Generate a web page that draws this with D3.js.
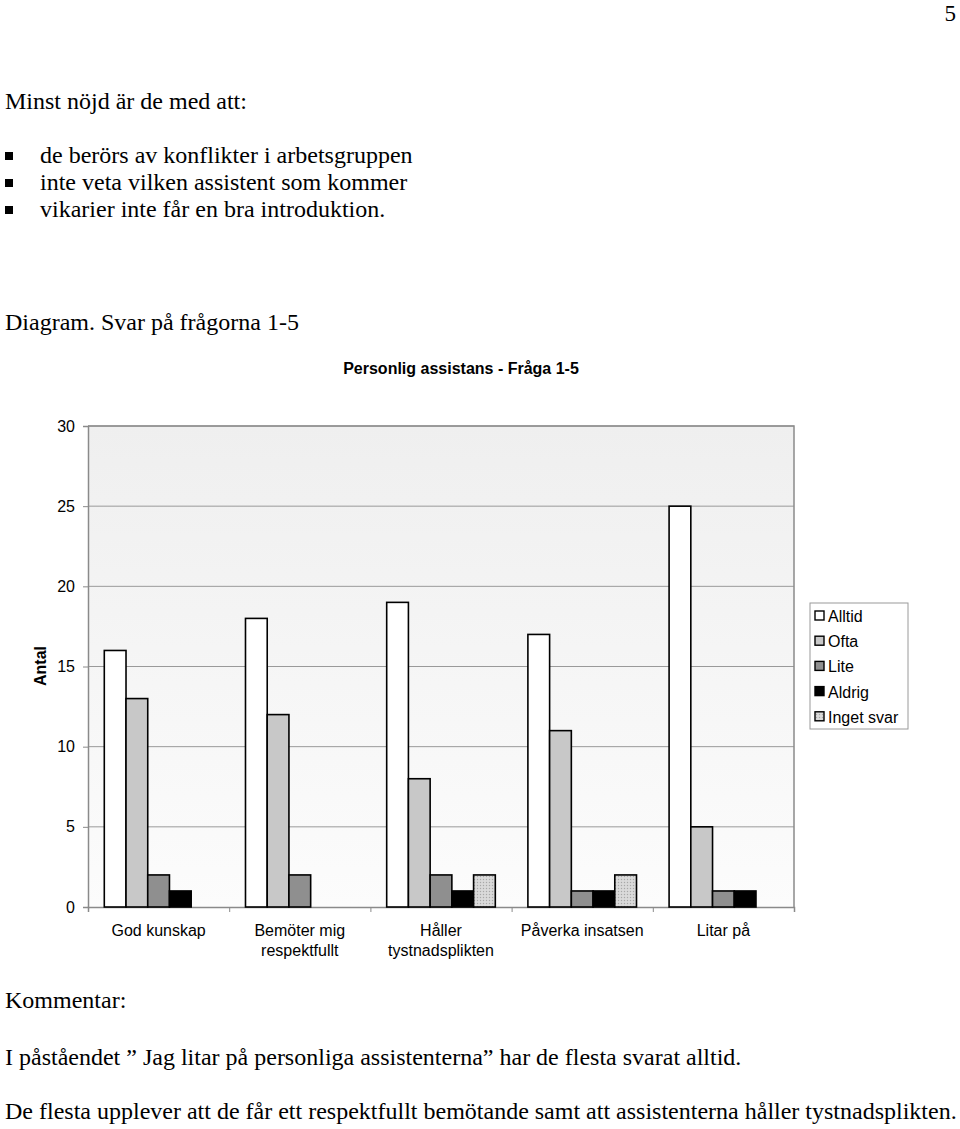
<!DOCTYPE html>
<html>
<head>
<meta charset="utf-8">
<script src="https://cdn.jsdelivr.net/npm/d3@7/dist/d3.min.js"></script>
<style>
  html, body { margin: 0; padding: 0; background: #fff; }
  svg { display: block; }
</style>
</head>
<body>
<svg id="page" width="960" height="1129"></svg>
<script>
const categories = [["God kunskap"], ["Bemöter mig", "respektfullt"], ["Håller", "tystnadsplikten"], ["Påverka insatsen"], ["Litar på"]];
const seriesNames = ["Alltid", "Ofta", "Lite", "Aldrig", "Inget svar"];
const alltid    = [16, 18, 19, 17, 25];
const ofta      = [13, 12, 8, 11, 5];
const lite      = [2, 2, 2, 1, 1];
const aldrig    = [1, 0, 1, 1, 1];
const ingetSvar = [0, 0, 2, 2, 0];
const yTicks = [0, 5, 10, 15, 20, 25, 30];
const chartTitle = "Personlig assistans - Fråga 1-5";
const yAxisTitle = "Antal";

const seriesValues = [alltid, ofta, lite, aldrig, ingetSvar];
const fills = ["#ffffff", "#c8c8c8", "#8f8f8f", "#000000", "url(#dots)"];

const svg = d3.select("#page");
const serif = "'Liberation Serif', 'Times New Roman', serif";
const sans = "'Liberation Sans', Arial, sans-serif";
const FS = 24;

// defs
const defs = svg.append("defs");
const grad = defs.append("linearGradient").attr("id", "bg").attr("x1", 0).attr("y1", 0).attr("x2", 0).attr("y2", 1);
grad.append("stop").attr("offset", "0%").attr("stop-color", "#efefef");
grad.append("stop").attr("offset", "100%").attr("stop-color", "#fcfcfc");
const pat = defs.append("pattern").attr("id", "dots").attr("width", 3).attr("height", 3).attr("patternUnits", "userSpaceOnUse");
pat.append("rect").attr("width", 3).attr("height", 3).attr("fill", "#d4d4d4");
pat.append("rect").attr("x", 0).attr("y", 0).attr("width", 1).attr("height", 1).attr("fill", "#a8a8a8");
pat.append("rect").attr("x", 1.5).attr("y", 1.5).attr("width", 1).attr("height", 1).attr("fill", "#ececec");

// Page text
svg.append("text").attr("x", 956).attr("y", 21).attr("text-anchor", "end")
  .attr("font-family", serif).attr("font-size", 23).text("5");
svg.append("text").attr("x", 5).attr("y", 109).attr("font-family", serif).attr("font-size", FS).text("Minst nöjd är de med att:");
const bullets = ["de berörs av konflikter i arbetsgruppen", "inte veta vilken assistent som kommer", "vikarier inte får en bra introduktion."];
bullets.forEach((b, i) => {
  const yy = 163 + i * 27;
  svg.append("rect").attr("x", 5).attr("y", yy - 11).attr("width", 8).attr("height", 8).attr("fill", "#000");
  svg.append("text").attr("x", 40).attr("y", yy).attr("font-family", serif).attr("font-size", FS).text(b);
});
svg.append("text").attr("x", 5).attr("y", 330).attr("font-family", serif).attr("font-size", FS).text("Diagram. Svar på frågorna 1-5");
svg.append("text").attr("x", 5).attr("y", 1008).attr("font-family", serif).attr("font-size", FS).text("Kommentar:");
svg.append("text").attr("x", 5).attr("y", 1065).attr("font-family", serif).attr("font-size", FS)
  .text("I påståendet ” Jag litar på personliga assistenterna” har de flesta svarat alltid.");
svg.append("text").attr("x", 5).attr("y", 1119).attr("font-family", serif).attr("font-size", FS)
  .text("De flesta upplever att de får ett respektfullt bemötande samt att assistenterna håller tystnadsplikten.");

// Chart
const plot = { left: 88, right: 794, top: 426, bottom: 907 };
const x0 = d3.scaleBand().domain(d3.range(categories.length)).range([plot.left, plot.right]).paddingInner(0).paddingOuter(0);
const barW = x0.bandwidth() / 6.5;
const y = d3.scaleLinear().domain([0, 30]).range([plot.bottom, plot.top]);

svg.append("rect").attr("x", plot.left).attr("y", plot.top).attr("width", plot.right - plot.left)
  .attr("height", plot.bottom - plot.top).attr("fill", "url(#bg)");

// gridlines
svg.append("g").selectAll("line").data(yTicks.filter(t => t > 0)).join("line")
  .attr("x1", plot.left).attr("x2", plot.right).attr("y1", d => y(d)).attr("y2", d => y(d))
  .attr("stroke", "#9a9a9a").attr("stroke-width", 1);

// plot border (top/right)
svg.append("path").attr("d", `M${plot.left},${plot.top}H${plot.right}V${plot.bottom}`)
  .attr("fill", "none").attr("stroke", "#8a8a8a").attr("stroke-width", 1.5);

// y axis
const yAxis = d3.axisLeft(y).tickValues(yTicks).tickSize(5).tickPadding(8).tickFormat(d3.format("d"));
const gy = svg.append("g").attr("transform", `translate(${plot.left},0)`).call(yAxis);
gy.select(".domain").attr("stroke", "#8a8a8a").attr("stroke-width", 1.5);
gy.selectAll(".tick line").attr("stroke", "#8a8a8a");
gy.selectAll("text").attr("font-family", sans).attr("font-size", 16).attr("fill", "#000");

// x axis
const xAxisScale = d3.scaleLinear().domain([0, categories.length]).range([plot.left, plot.right]);
const gx = svg.append("g").attr("transform", `translate(0,${plot.bottom})`)
  .call(d3.axisBottom(xAxisScale).ticks(5).tickSize(5).tickFormat(""));
gx.select(".domain").attr("stroke", "#8a8a8a").attr("stroke-width", 1.5);
gx.selectAll(".tick line").attr("stroke", "#8a8a8a");

// category labels
categories.forEach((lines, i) => {
  const cx = x0(i) + x0.bandwidth() / 2;
  const t = svg.append("text").attr("x", cx).attr("y", 936).attr("text-anchor", "middle")
    .attr("font-family", sans).attr("font-size", 16).attr("fill", "#000");
  lines.forEach((l, j) => t.append("tspan").attr("x", cx).attr("dy", j === 0 ? 0 : 20).text(l));
});

// bars
const barsG = svg.append("g");
seriesValues.forEach((vals, s) => {
  barsG.append("g").selectAll("rect").data(vals.map((v, i) => ({ v, i }))).join("rect")
    .filter(d => d.v > 0)
    .attr("x", d => x0(d.i) + barW * 0.75 + s * barW)
    .attr("y", d => y(d.v))
    .attr("width", barW)
    .attr("height", d => y(0) - y(d.v))
    .attr("fill", fills[s])
    .attr("stroke", "#000").attr("stroke-width", 1.6);
});

// title
svg.append("text").attr("x", 461).attr("y", 374).attr("text-anchor", "middle")
  .attr("font-family", sans).attr("font-size", 16).attr("font-weight", "bold").text(chartTitle);

// y axis title
svg.append("text").attr("transform", "translate(46,666) rotate(-90)").attr("text-anchor", "middle")
  .attr("font-family", sans).attr("font-size", 16).attr("font-weight", "bold").text(yAxisTitle);

// legend
const lg = svg.append("g").attr("transform", "translate(810,603)");
lg.append("rect").attr("x", 0).attr("y", 0).attr("width", 98).attr("height", 126)
  .attr("fill", "#fff").attr("stroke", "#9a9a9a").attr("stroke-width", 1);
seriesNames.forEach((n, i) => {
  const yy = 13 + i * 25.2;
  lg.append("rect").attr("x", 5).attr("y", yy - 5).attr("width", 9).attr("height", 9)
    .attr("fill", fills[i]).attr("stroke", "#000").attr("stroke-width", 1.4);
  lg.append("text").attr("x", 18).attr("y", yy + 6).attr("font-family", sans).attr("font-size", 16).text(n);
});
</script>
</body>
</html>
